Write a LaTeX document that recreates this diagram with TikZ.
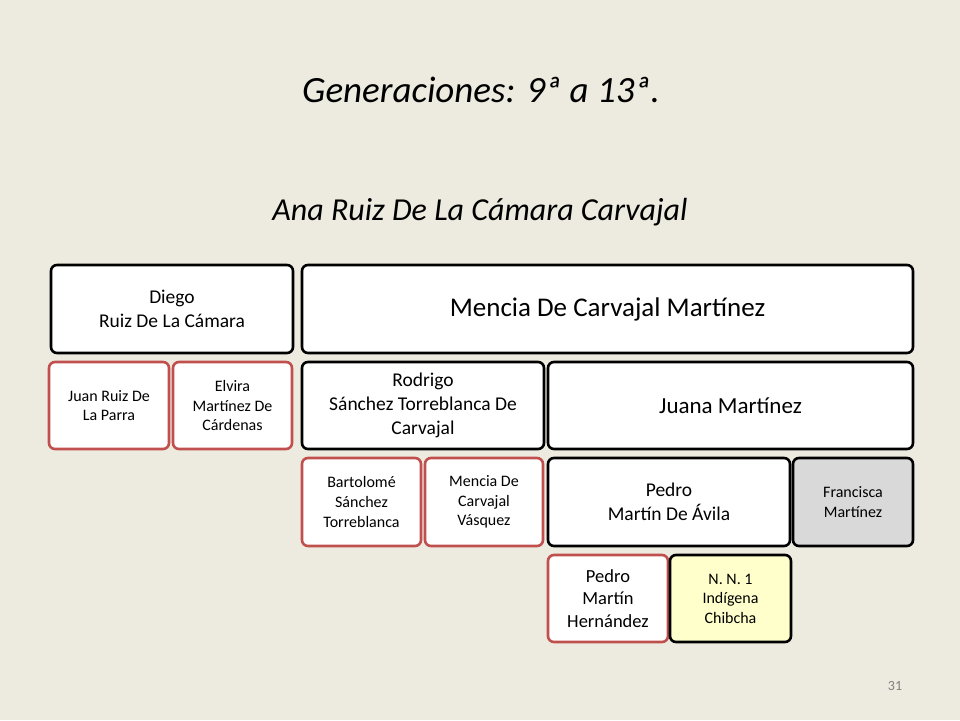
\documentclass[tikz,border=0pt]{standalone}
\usepackage{fontspec}
\setmainfont{Carlito}
\definecolor{bg}{HTML}{EDEADF}
\definecolor{redb}{HTML}{C0504D}
\definecolor{grayf}{HTML}{D9D9D9}
\definecolor{yellf}{HTML}{FFFFCC}
\tikzset{
 box/.style={draw=black,line width=2.6pt,rounded corners=6pt,fill=white,align=center,inner sep=2pt},
 rbox/.style={box,draw=redb},
 fs/.style={font=\fontsize{#1}{1.22\dimexpr#1pt\relax}\selectfont},
}
\newcommand{\bx}[6]{\node[#1,minimum width=#4-#2,minimum height=#5-#3] (#6) at ({(#2+#4)/2},{(#3+#5)/2})}
\begin{document}
\begin{tikzpicture}[x=1pt,y=-1pt]
\fill[bg] (0,0) rectangle (960,720);
\useasboundingbox (0,0) rectangle (960,720);
\node[fs=37] (title) at (481,90) {\itshape Generaciones: 9ª a 13ª.};
\node[fs=32] (sub) at (480,212) {\itshape Ana Ruiz De La Cámara Carvajal};
\node[text=gray,fs=14] (pg) at (895,686) {31};
\bx{box,fs=19.5}{51}{265}{293}{353}{diego} {Diego\\Ruiz De La Cámara};
\bx{box,fs=27}{302}{265}{913}{353}{mencia} {Mencia De Carvajal Martínez};
\bx{rbox,fs=16}{49}{362}{169}{449}{juan} {Juan Ruiz De\\La Parra};
\bx{rbox,fs=16}{173}{362}{292}{449}{elvira} {Elvira\\Martínez De\\Cárdenas};
\bx{box,fs=19.5}{302}{362}{544}{449}{rodrigo} {Rodrigo\\Sánchez Torreblanca De\\Carvajal};
\bx{box,fs=23}{548}{362}{913}{449}{juana} {Juana Martínez};
\bx{rbox,fs=16}{302}{458}{421}{546}{bart} {Bartolomé\\Sánchez\\Torreblanca};
\bx{rbox,fs=16}{425}{458}{543}{546}{menciav} {Mencia De\\Carvajal\\Vásquez};
\bx{box,fs=19.5}{548}{458}{790}{546}{pedroa} {Pedro\\Martín De Ávila};
\bx{box,fill=grayf,fs=16}{793}{458}{913}{546}{fran} {Francisca\\Martínez};
\bx{rbox,fs=18.5}{548}{555}{668}{642}{pedroh} {Pedro\\Martín\\Hernández};
\bx{box,fill=yellf,fs=16}{670}{555}{791}{642}{nn} {N. N. 1\\Indígena\\Chibcha};
\end{tikzpicture}
\end{document}
